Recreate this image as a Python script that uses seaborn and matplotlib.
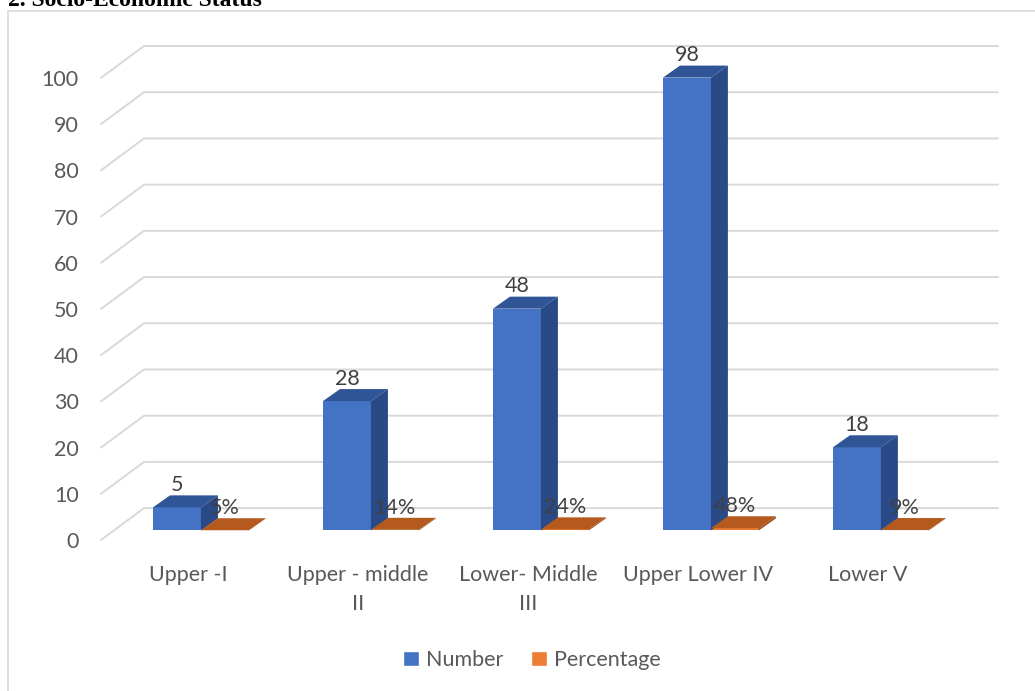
import matplotlib
matplotlib.use("Agg")
import matplotlib.pyplot as plt
from matplotlib.patches import Polygon, Patch, Rectangle
import seaborn as sns
import pandas as pd
import numpy as np

# data
categories = ["Upper -I", "Upper - middle\nII", "Lower- Middle\nIII", "Upper Lower IV", "Lower V"]
number = [5, 28, 48, 98, 18]
percentage = [0.05, 0.14, 0.24, 0.48, 0.09]
pct_labels = ["5%", "14%", "24%", "48%", "9%"]
series = ["Number", "Percentage"]
yticks = list(range(0, 101, 10))

blue, orange = "#4472C4", "#ED7D31"
top_col = {"Number": "#2f5597", "Percentage": "#b55a1e"}
side_col = {"Number": "#294a86", "Percentage": "#a04f18"}
txt = "#595959"

df = pd.DataFrame({
    "category": categories * 2,
    "series": [series[0]] * 5 + [series[1]] * 5,
    "value": number + percentage,
})

sns.set_style("white")
plt.rcParams["font.family"] = ["Lato", "DejaVu Sans"]

fig = plt.figure(figsize=(10.35, 6.91), dpi=100)
ax = fig.add_axes([101 / 1035, 1 - 540 / 691, (998 - 101) / 1035, (540 - 46) / 691])

# perspective offsets (data units)
wall_dx, wall_dy = 0.253, 6.9
bar_dx, bar_dy = 0.1, 2.6
base = 2.06
shift = 0.076
xmin, xmax = -0.512, 4.765

sns.barplot(data=df, x="category", y="value", hue="series", palette=[blue, orange],
            width=0.564, saturation=1, legend=False, ax=ax, zorder=3)

# seaborn resets the limits, so set them afterwards
ax.set_xlim(xmin, xmax)
ax.set_ylim(0, 100 + wall_dy)

# floor / wall gridlines
for v in yticks:
    ax.plot([xmin, xmin + wall_dx, xmax], [v, v + wall_dy, v + wall_dy],
            color="#d9d9d9", lw=1.4, zorder=0, clip_on=False)

bars = list(ax.patches)
for k, p in enumerate(bars):
    s = series[k // 5]
    p.set_x(p.get_x() + shift)
    p.set_y(base)
    p.set_edgecolor("none")
    x0, w, h = p.get_x(), p.get_width(), p.get_height()
    y0, y1 = base, base + h
    top = [(x0, y1), (x0 + w, y1), (x0 + w + bar_dx, y1 + bar_dy), (x0 + bar_dx, y1 + bar_dy)]
    side = [(x0 + w, y0), (x0 + w + bar_dx, y0 + bar_dy), (x0 + w + bar_dx, y1 + bar_dy), (x0 + w, y1)]
    ax.add_patch(Polygon(top, closed=True, facecolor=top_col[s], edgecolor="none", zorder=3))
    ax.add_patch(Polygon(side, closed=True, facecolor=side_col[s], edgecolor="none", zorder=3))
    lab = str(number[k % 5]) if s == "Number" else pct_labels[k % 5]
    ax.text(x0 + w / 2, y1 + 4.8, lab, ha="center", va="center",
            fontsize=15.5, color="#404040", zorder=5)

ax.set_xticks(range(len(categories)))
ax.set_xticklabels(categories, fontsize=15.5, color=txt, multialignment="center", linespacing=1.55)
ax.set_yticks(yticks)
ax.set_yticklabels([str(v) for v in yticks], fontsize=15.5, color=txt)
ax.tick_params(axis="x", length=0, pad=18)
ax.tick_params(axis="y", length=0, pad=16)
ax.set_xlabel("")
ax.set_ylabel("")
for sp in ax.spines.values():
    sp.set_visible(False)
ax.patch.set_alpha(0)

handles = [Patch(facecolor=blue, label="Number"), Patch(facecolor=orange, label="Percentage")]
leg = fig.legend(handles=handles, loc="center", bbox_to_anchor=(532 / 1035, 1 - 660 / 691),
                 ncol=2, frameon=False, fontsize=15.5, handlelength=0.75, handleheight=0.75,
                 handletextpad=0.3, columnspacing=1.3)
for t in leg.get_texts():
    t.set_color(txt)

# chart frame and cut-off heading (cut at the top edge, as in the source)
fig.patches.append(Rectangle((8 / 1035, -0.05), 1.1, 1.05 - 11 / 691, transform=fig.transFigure,
                             fill=False, edgecolor="#d9d9d9", lw=1.2, zorder=0))
fig.text(8 / 1035, 1 - 6 / 691, "2. Socio-Economic Status", fontsize=17, fontweight="bold",
         family=["Liberation Serif", "DejaVu Serif"], color="black", va="baseline", ha="left")

fig.savefig("out.png", dpi=100)
